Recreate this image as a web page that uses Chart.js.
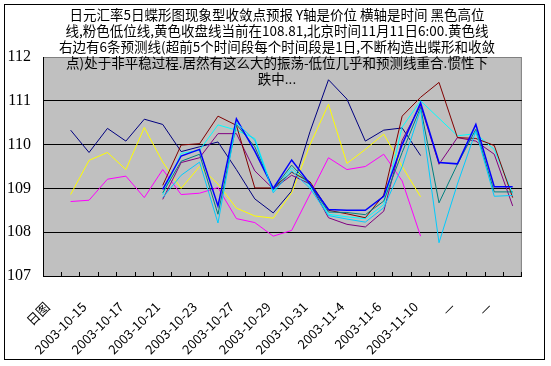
<!DOCTYPE html>
<html>
<head>
<meta charset="utf-8">
<script src="https://cdn.jsdelivr.net/npm/chart.js@4.4.1/dist/chart.umd.min.js"></script>
<style>
  html, body { margin: 0; padding: 0; background: #fff; }
</style>
</head>
<body>
<canvas id="fxChart" width="551" height="366"></canvas>
<script>
const categories = ['日图', '2003-10-14', '2003-10-15', '2003-10-16', '2003-10-17', '2003-10-20',
  '2003-10-21', '2003-10-22', '2003-10-23', '2003-10-24', '2003-10-27', '2003-10-28',
  '2003-10-29', '2003-10-30', '2003-10-31', '2003-11-3', '2003-11-4', '2003-11-5',
  '2003-11-6', '2003-11-7', '2003-11-10', '—', '—', '—', '—', '—'];

const yTicks = [107, 108, 109, 110, 111, 112];

// 高位 / 收盘 / 低位
const highLine = [null, 110.33, 109.82, 110.37, 110.08, 110.58, 110.46, 109.84, 109.95, 110.06, 109.43, 108.76, 108.44, 108.94, 110.3, 111.48, 111.04, 110.08, 110.33, 110.38, 109.75, null, null, null, null, null];
const lowLine = [null, 108.70, 108.73, 109.21, 109.28, 108.79, 109.43, 108.86, 108.89, 109.02, 108.31, 108.22, 107.91, 108.04, 108.87, 109.70, 109.43, 109.5, 109.78, 109.17, 107.91, null, null, null, null, null];
const closeLine = [null, 108.86, 109.64, 109.82, 109.43, 110.39, 109.6, 109.0, 109.5, 109.1, 108.55, 108.37, 108.32, 108.9, 110.0, 110.92, 109.57, 109.89, 110.24, 109.5, 108.81, null, null, null, null, null];

// 6条预测线
const forecastCyan = [null, null, null, null, null, null, 108.86, 109.8, 109.87, 110.45, 110.33, 110.14, 108.94, 109.47, 109.05, 108.41, 108.35, 108.31, 108.63, 110.4, 111.0, 110.6, 110.2, 110.25, 109.89, 108.88];
const forecastPurple = [null, null, null, null, null, null, 108.75, 109.59, 109.7, 110.25, 110.25, 109.4, 108.99, 109.3, 109.1, 108.33, 108.18, 108.12, 108.48, 110.1, 110.9, 109.55, 110.16, 110.08, 109.78, 108.6];
const forecastMaroon = [null, null, null, null, null, null, 109.07, 109.99, 110.02, 110.65, 110.44, 109.01, 109.01, 109.37, 109.15, 108.5, 108.42, 108.33, 108.85, 110.65, 111.08, 111.42, 110.16, 110.14, 109.98, 108.79];
const forecastTeal = [null, null, null, null, null, null, 108.9, 109.62, 109.78, 108.41, 110.46, 109.95, 108.98, 109.53, 109.08, 108.46, 108.45, 108.4, 108.71, 109.82, 110.85, 108.67, 109.55, 110.35, 108.92, 108.92];
const forecastBlue = [null, null, null, null, null, null, 108.98, 109.74, 109.89, 108.6, 110.59, 109.85, 109.0, 109.65, 109.1, 108.52, 108.5, 108.5, 108.82, 110.0, 110.95, 109.59, 109.56, 110.46, 109.04, 109.04];
const forecastSky = [null, null, null, null, null, null, 108.79, 109.3, 109.6, 108.21, 110.5, 110.1, 108.9, 109.4, 109.0, 108.38, 108.3, 108.23, 108.56, 109.5, 110.8, 107.76, 109.1, 110.31, 108.82, 108.84];

const titleLines = [
  '日元汇率5日蝶形图现象型收敛点预报 Y轴是价位 横轴是时间 黑色高位',
  '线,粉色低位线,黄色收盘线当前在108.81,北京时间11月11日6:00.黄色线',
  '右边有6条预测线(超前5个时间段每个时间段是1日,不断构造出蝶形和收敛',
  '点)处于非平稳过程.居然有这么大的振荡-低位几乎和预测线重合.惯性下',
  '跌中...'
];

function line(data, color, width, order) {
  return {
    data: data,
    borderColor: color,
    backgroundColor: color,
    borderWidth: width,
    pointRadius: 0,
    tension: 0,
    spanGaps: false,
    order: order
  };
}

// plot area background, frame and the title drawn over the plot
const excelFrame = {
  id: 'excelFrame',
  beforeDraw(chart) {
    const ctx = chart.ctx;
    const a = chart.chartArea;
    ctx.save();
    ctx.fillStyle = '#ffffff';
    ctx.fillRect(0, 0, chart.width, chart.height);
    ctx.fillStyle = '#c0c0c0';
    ctx.fillRect(a.left, a.top, a.right - a.left, a.bottom - a.top);
    ctx.strokeStyle = '#808080';
    ctx.lineWidth = 1;
    ctx.strokeRect(a.left + 0.5, a.top + 0.5, a.right - a.left - 1, a.bottom - a.top);
    ctx.strokeStyle = '#000000';
    ctx.strokeRect(4.5, 4.5, 540, 355);
    ctx.restore();
  },
  afterDraw(chart) {
    const ctx = chart.ctx;
    ctx.save();
    ctx.fillStyle = '#000';
    ctx.font = '13.5px "Noto Sans CJK SC"';
    ctx.textAlign = 'center';
    ctx.textBaseline = 'middle';
    titleLines.forEach(function(t, i) {
      ctx.fillText(t, 277, 15 + i * 16);
    });
    ctx.restore();
  }
};

const ctx = document.getElementById('fxChart').getContext('2d');
const fxChart = new Chart(ctx, {
  type: 'line',
  data: {
    labels: categories,
    datasets: [
      line(highLine, '#000080', 1, 9),
      line(lowLine, '#ff00ff', 1, 8),
      line(closeLine, '#ffff00', 1, 7),
      line(forecastCyan, '#00ffff', 1, 6),
      line(forecastPurple, '#800080', 1, 5),
      line(forecastMaroon, '#800000', 1, 4),
      line(forecastTeal, '#008080', 1, 3),
      line(forecastBlue, '#0000ff', 1.5, 2),
      line(forecastSky, '#00ccff', 1, 1)
    ]
  },
  options: {
    responsive: false,
    animation: false,
    layout: { padding: { top: 57, right: 15, left: 0, bottom: 0 } },
    plugins: {
      legend: { display: false },
      tooltip: { enabled: false },
      title: { display: false }
    },
    scales: {
      x: {
        type: 'category',
        offset: true,
        grid: {
          offset: true,
          drawOnChartArea: false,
          drawTicks: true,
          tickLength: -4,
          color: '#000'
        },
        border: { display: true, color: '#000' },
        ticks: {
          autoSkip: false,
          minRotation: 45,
          maxRotation: 45,
          padding: 27,
          labelOffset: -5,
          color: '#000',
          font: { family: '"Noto Sans CJK SC"', size: 13 },
          callback: function(v, i) { return i % 2 === 0 ? categories[i] : ''; }
        },
        afterFit: function(s) { s.height = 90; }
      },
      y: {
        min: yTicks[0],
        max: yTicks[yTicks.length - 1],
        afterBuildTicks: function(s) { s.ticks = yTicks.map(function(v) { return { value: v }; }); },
        grid: {
          drawTicks: false,
          color: function(c) {
            return (c.tick && (c.tick.value === 107 || c.tick.value === 112)) ? 'rgba(0,0,0,0)' : '#000';
          }
        },
        border: { display: true, color: '#000' },
        ticks: {
          padding: 12,
          color: '#000',
          font: { family: '"Liberation Serif"', size: 16 }
        },
        afterFit: function(s) { s.width = 43; }
      }
    }
  },
  plugins: [excelFrame]
});
</script>
</body>
</html>
